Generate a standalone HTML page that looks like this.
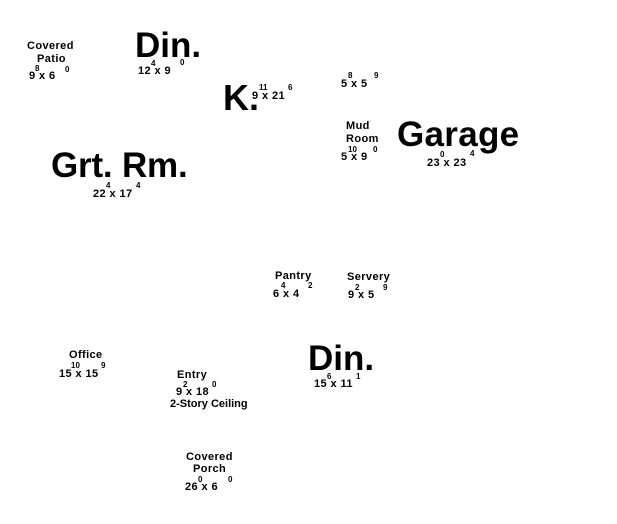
<!DOCTYPE html>
<html><head><meta charset="utf-8"><style>
body{margin:0;width:617px;height:524px;background:#fff;position:relative;overflow:hidden;font-family:"Liberation Sans",Arial,sans-serif;font-weight:bold;color:#000}
div{position:absolute;line-height:1;white-space:nowrap}
.s{font-size:11px;letter-spacing:0.4px}
.u{font-size:8px}
.b{font-size:35px}
</style></head><body>
<div class="s" style="left:27px;top:41px">Covered</div>
<div class="s" style="left:37px;top:54px">Patio</div>
<div class="s" style="left:29px;top:71px">9 x 6</div>
<div class="u" style="left:35px;top:65px">8</div><div class="u" style="left:65px;top:66px">0</div>

<div class="b" style="left:135px;top:28px">Din.</div>
<div class="s" style="left:138px;top:66px">12 x 9</div>
<div class="u" style="left:151px;top:60px">4</div><div class="u" style="left:180px;top:59px">0</div>

<div class="b" style="left:223px;top:80px;font-size:36px">K.</div>
<div class="s" style="left:252px;top:91px">9 x 21</div>
<div class="u" style="left:259px;top:84px">11</div><div class="u" style="left:288px;top:84px">6</div>

<div class="s" style="left:341px;top:79px">5 x 5</div>
<div class="u" style="left:348px;top:72px">8</div><div class="u" style="left:374px;top:72px">9</div>

<div class="s" style="left:346px;top:121px">Mud</div>
<div class="s" style="left:346px;top:134px">Room</div>
<div class="s" style="left:341px;top:152px">5 x 9</div>
<div class="u" style="left:348px;top:146px">10</div><div class="u" style="left:373px;top:146px">0</div>

<div class="b" style="left:397px;top:117px;font-size:35px;letter-spacing:0.3px">Garage</div>
<div class="s" style="left:427px;top:158px">23 x 23</div>
<div class="u" style="left:440px;top:151px">0</div><div class="u" style="left:470px;top:150px">4</div>

<div class="b" style="left:51px;top:148px;font-size:35px;letter-spacing:-0.2px">Grt. Rm.</div>
<div class="s" style="left:93px;top:189px">22 x 17</div>
<div class="u" style="left:106px;top:182px">4</div><div class="u" style="left:136px;top:182px">4</div>

<div class="s" style="left:275px;top:271px">Pantry</div>
<div class="s" style="left:273px;top:289px">6 x 4</div>
<div class="u" style="left:281px;top:282px">4</div><div class="u" style="left:308px;top:282px">2</div>

<div class="s" style="left:347px;top:272px">Servery</div>
<div class="s" style="left:348px;top:290px">9 x 5</div>
<div class="u" style="left:355px;top:284px">2</div><div class="u" style="left:383px;top:284px">9</div>

<div class="s" style="left:69px;top:350px">Office</div>
<div class="s" style="left:59px;top:369px">15 x 15</div>
<div class="u" style="left:71px;top:362px">10</div><div class="u" style="left:101px;top:362px">9</div>

<div class="b" style="left:308px;top:341px">Din.</div>
<div class="s" style="left:314px;top:379px">15 x 11</div>
<div class="u" style="left:327px;top:373px">6</div><div class="u" style="left:356px;top:373px">1</div>

<div class="s" style="left:177px;top:370px">Entry</div>
<div class="s" style="left:176px;top:387px">9 x 18</div>
<div class="u" style="left:183px;top:381px">2</div><div class="u" style="left:212px;top:381px">0</div>
<div class="s" style="left:170px;top:399px;letter-spacing:0">2-Story Ceiling</div>

<div class="s" style="left:186px;top:452px">Covered</div>
<div class="s" style="left:193px;top:464px">Porch</div>
<div class="s" style="left:185px;top:482px">26 x 6</div>
<div class="u" style="left:198px;top:476px">0</div><div class="u" style="left:228px;top:476px">0</div>
</body></html>
